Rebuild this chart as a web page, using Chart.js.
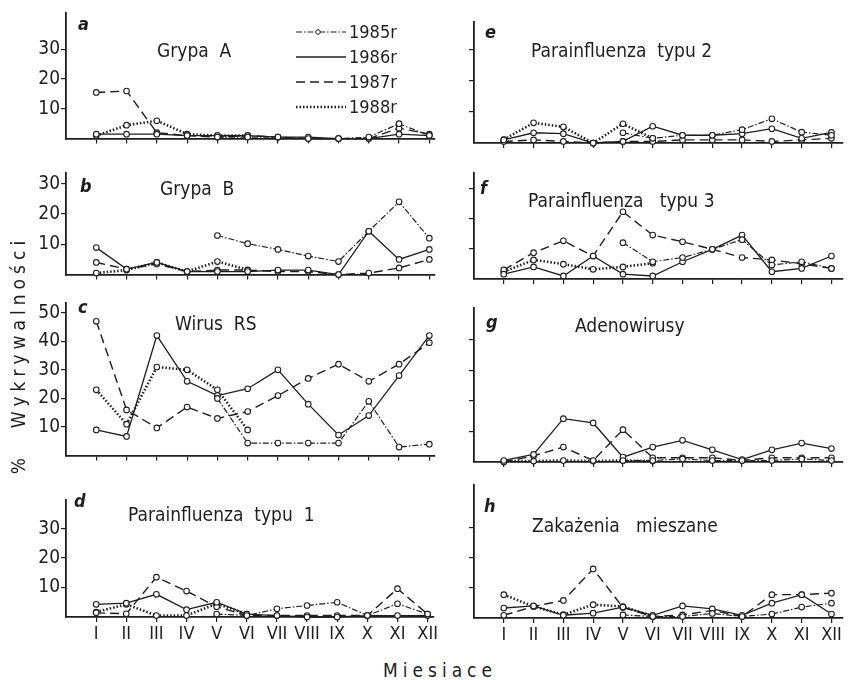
<!DOCTYPE html>
<html>
<head>
<meta charset="utf-8">
<script src="https://cdn.jsdelivr.net/npm/chart.js@4.4.0/dist/chart.umd.min.js"></script>
<style>
  body { margin:0; background:#fff; width:848px; height:680px; position:relative; overflow:hidden;
         font-family:'Liberation Sans Narrow','DejaVu Sans Condensed',sans-serif; color:#1e1e1e; }
  .t { position:absolute; white-space:pre; line-height:1; transform:translateY(-50%); }
  .title { font-size:19px; }
  .let { font-size:18px; font-style:italic; font-weight:bold; }
  .leg { font-size:18px; }
</style>
</head>
<body>
<script>
const FONT = "'Liberation Sans Narrow','DejaVu Sans Condensed',sans-serif";
const ink = '#1e1e1e';

const months = ['I','II','III','IV','V','VI','VII','VIII','IX','X','XI','XII'];
const years = ['1985 r','1986 r','1987 r','1988 r'];

// a - Grypa A
const a85 = [null,null,null,null,0.5,0.5,0.5,0,0,0.5,5,1];
const a86 = [1.5,1.5,1.5,1,1,1,0.5,0.5,0,0,1.5,1];
const a87 = [15.5,16,2,1,0.5,1,0.5,0,0,0,3.5,1.5];
const a88 = [1,4.5,6,1.5,1,1,null,null,null,null,null,null];
// b - Grypa B
const b85 = [null,null,null,null,12.9,10.2,8.3,6.1,4.3,14.3,24,12];
const b86 = [8.9,1.8,4,1,1,1,1.5,1.5,0,14.3,5,8.3];
const b87 = [4,1.8,3.5,1,1.5,1.5,1,1,0,0.5,2.2,5];
const b88 = [0.5,1.5,4,1,4.3,1.6,null,null,null,null,null,null];
// c - Wirus RS
const c85 = [null,null,null,null,20,4.4,4.4,4.4,4.4,19,3,4];
const c86 = [9,6.7,42,26,21,23.4,30,18,7.2,14,28,42];
const c87 = [47,16,9.7,17,13,15.4,21,27,32,26,32,39.5];
const c88 = [23,11,31,30,23,9,null,null,null,null,null,null];
// d - Parainfluenza typu 1
const d85 = [null,null,null,null,1,0.5,2.8,3.9,5,0.5,4.5,1];
const d86 = [4.3,4.7,7.7,2.5,5,1,0.5,0,0,0.5,0.5,0.5];
const d87 = [1.4,1.1,13.5,8.8,3.5,0.5,0.5,0.5,0.5,0.5,9.6,1];
const d88 = [1.7,4.3,0.5,0.5,4.5,1,null,null,null,null,null,null];
// e - Parainfluenza typu 2
const e85 = [null,null,null,null,3.3,1.5,2.5,2.5,4.3,7.8,3.5,2.5];
const e86 = [1,3.3,3,0,0.5,5.4,2.5,2.5,3,4.6,1.5,3.4];
const e87 = [0.5,1,0.5,0,0.5,0.5,1,1,1,0.5,1,1.5];
const e88 = [1.1,6.5,5.2,0,6.2,1.5,null,null,null,null,null,null];
// f - Parainfluenza typu 3
const f85 = [null,null,null,null,12,5.7,7.1,9.8,13,4.6,5.7,3.5];
const f86 = [1.6,4,1,7.6,1.6,1,5.7,9.8,14.5,2.4,3.5,7.6];
const f87 = [3,8.7,12.6,7.6,22.2,14.5,12.3,9.8,7.1,6.3,5,3.5];
const f88 = [2.4,6.3,4.9,3.2,4,5.2,null,null,null,null,null,null];
// g - Adenowirusy
const g85 = [null,null,null,null,0.5,0.5,1,0.5,0.5,0.5,1,0.5];
const g86 = [0.5,2.5,14.2,12.8,1.6,4.9,7.1,4,0.8,4,6.2,4.4];
const g87 = [0,2,4.9,0.5,10.6,1.4,1.4,1.4,0.5,1.4,1.4,1.4];
const g88 = [0.3,0.3,0.5,0.3,0.5,0.3,null,null,null,null,null,null];
// h - Zakazenia mieszane
const h85 = [null,null,null,null,1,0.5,0.5,1.5,0.5,1.3,3.6,4.9];
const h86 = [3.3,4,0.9,1.6,3.6,0.9,4,3,0.9,4.9,7.7,1.3];
const h87 = [0.9,3.8,5.8,16.2,3.5,0.5,1,2.5,0.5,7.7,7.7,8.2];
const h88 = [7.7,3.8,1.1,4.4,3.8,0.5,null,null,null,null,null,null];

const yearStyles = [
  {borderDash:[6,2,1.5,2], borderWidth:1.2},
  {borderDash:[], borderWidth:1.3},
  {borderDash:[9,5], borderWidth:1.4},
  {borderDash:[1.5,2], borderWidth:2.6}
];

const panels = [
  {series:[a85,a86,a87,a88], side:'L', top:13,  bottom:141, max:42.2, ticks:[10,20,30]},
  {series:[b85,b86,b87,b88], side:'L', top:173, bottom:277, max:33.5, ticks:[10,20,30]},
  {series:[c85,c86,c87,c88], side:'L', top:303, bottom:458, max:53.4, ticks:[10,20,30,40,50]},
  {series:[d85,d86,d87,d88], side:'L', top:500, bottom:617, max:39.7, ticks:[10,20,30], xLabels:true},
  {series:[e85,e86,e87,e88], side:'R', top:22,  bottom:143, max:39,   ticks:[10,20,30]},
  {series:[f85,f86,f87,f88], side:'R', top:173, bottom:279, max:35,   ticks:[10,20,30]},
  {series:[g85,g86,g87,g88], side:'R', top:308, bottom:462, max:50.5, ticks:[10,20,30,40]},
  {series:[h85,h86,h87,h88], side:'R', top:485, bottom:618, max:43.9, ticks:[10,20,30], xLabels:true}
];

panels.forEach(p => {
  const isL = p.side === 'L';
  const left = isL ? 0 : 440;
  const w = isL ? 440 : 408;
  const yw = isL ? 66 : 34;
  const padR = isL ? 3 : 0;
  const xMax = isL ? 371 / 30.45 : 374 / 30.2;
  const padT = 16, xh = p.xLabels ? 34 : 10;
  const cv = document.createElement('canvas');
  cv.width = w;
  cv.height = p.bottom - p.top + padT + xh;
  cv.style.cssText = 'position:absolute;left:' + left + 'px;top:' + (p.top - padT) + 'px';
  document.body.appendChild(cv);

  new Chart(cv, {
    type: 'line',
    data: {
      datasets: p.series.map((s, i) => ({
        label: years[i],
        data: s.map((v, j) => ({x: j + 1, y: v})),
        borderColor: ink,
        borderDash: yearStyles[i].borderDash,
        borderWidth: yearStyles[i].borderWidth,
        pointRadius: 2.8,
        pointBorderWidth: 1.1,
        pointBorderColor: ink,
        pointBackgroundColor: '#fff',
        spanGaps: false,
        clip: false
      }))
    },
    options: {
      responsive: false,
      animation: false,
      devicePixelRatio: 1,
      layout: {padding: {top: padT, right: padR, left: 0, bottom: 0}},
      plugins: {legend: {display: false}, tooltip: {enabled: false}},
      scales: {
        x: {
          type: 'linear', min: 0, max: xMax,
          afterBuildTicks: s => { s.ticks = months.map((m, i) => ({value: i + 1})); },
          afterFit: s => { s.height = xh; },
          border: {color: ink, width: 1.8},
          grid: {drawOnChartArea: false, tickLength: 5, color: ink, lineWidth: 1.2},
          ticks: {display: !!p.xLabels, autoSkip: false, maxRotation: 0, padding: 2, color: ink,
                  font: {family: FONT, size: 18}, callback: v => months[v - 1]}
        },
        y: {
          type: 'linear', min: 0, max: p.max,
          afterBuildTicks: s => { s.ticks = p.ticks.map(v => ({value: v})); },
          afterFit: s => { s.width = yw; },
          border: {color: ink, width: 1.8},
          grid: {drawOnChartArea: false, tickLength: 5, color: ink, lineWidth: 1.2},
          ticks: {display: isL, padding: 1, color: ink, font: {family: FONT, size: 19}}
        }
      }
    }
  });
});

// text labels
function put(txt, x, y, cls, extra) {
  const d = document.createElement('div');
  d.className = 't ' + cls;
  d.textContent = txt;
  d.style.left = x + 'px';
  d.style.top = y + 'px';
  if (extra) d.style.cssText += extra;
  document.body.appendChild(d);
  return d;
}
put('a', 78, 24, 'let'); put('Grypa  A', 157, 50, 'title');
put('b', 80, 186, 'let'); put('Grypa  B', 160, 188, 'title');
put('c', 78, 307, 'let'); put('Wirus  RS', 175, 323, 'title');
put('d', 74, 501, 'let'); put('Parainfluenza  typu  1', 128, 514, 'title');
put('e', 485, 32, 'let'); put('Parainfluenza  typu 2', 531, 50, 'title');
put('f', 480, 188, 'let'); put('Parainfluenza   typu 3', 528, 200, 'title');
put('g', 486, 322, 'let'); put('Adenowirusy', 575, 325, 'title');
put('h', 484, 506, 'let'); put('Zakażenia   mieszane', 532, 525, 'title');

// legend
const legY = [32, 57, 82, 107];
const dashes = ['6 2 1.5 2', '', '9 5', '1.5 2'];
const widths = [1.2, 1.3, 1.4, 2.6];
legY.forEach((y, i) => {
  const svg = document.createElementNS('http://www.w3.org/2000/svg', 'svg');
  svg.setAttribute('width', 52); svg.setAttribute('height', 10);
  svg.style.cssText = 'position:absolute;left:296px;top:' + (y - 5) + 'px';
  let inner = '<line x1="0" y1="5" x2="50" y2="5" stroke="' + ink + '" stroke-width="' + widths[i] + '"' +
              (dashes[i] ? ' stroke-dasharray="' + dashes[i] + '"' : '') + '/>';
  if (i === 0) inner += '<circle cx="22" cy="5" r="2.3" fill="#fff" stroke="' + ink + '" stroke-width="1"/>';
  svg.innerHTML = inner;
  document.body.appendChild(svg);
  put(years[i].replace(' ', ''), 349, y, 'leg');
});

// axis titles
put('Wykrywalności', 18, 332, 'title', 'letter-spacing:5px;transform:translate(-50%,-50%) rotate(-90deg);');
put('%', 18, 466, 'title', 'transform:translate(-50%,-50%) rotate(-90deg);');
put('Miesiace', 440, 670, 'title', 'letter-spacing:5px;transform:translate(-50%,-50%);');
</script>
</body>
</html>
